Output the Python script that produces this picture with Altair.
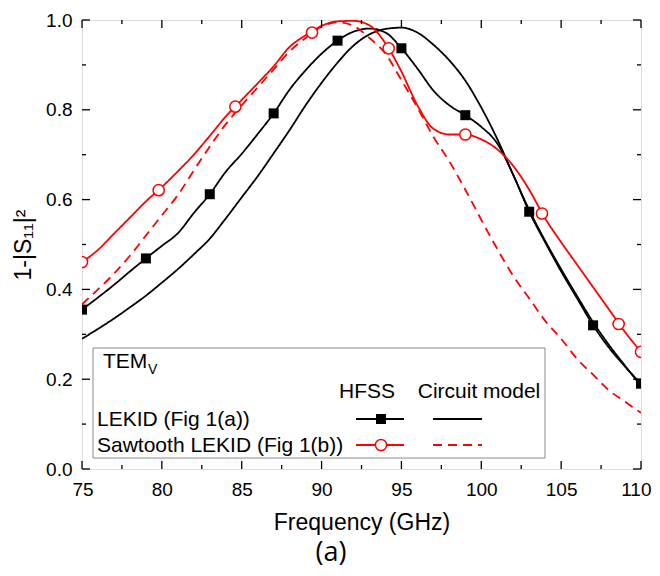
import altair as alt
import pandas as pd

# ---------------- data ----------------
freq = list(range(75, 111))

lekid_hfss = [0.355, 0.382, 0.41, 0.44, 0.469, 0.497, 0.525, 0.57, 0.612, 0.662,
              0.702, 0.746, 0.792, 0.845, 0.888, 0.925, 0.954, 0.974, 0.981, 0.972,
              0.937, 0.892, 0.843, 0.81, 0.788, 0.762, 0.725, 0.655, 0.573, 0.505,
              0.44, 0.38, 0.32, 0.27, 0.228, 0.19]

lekid_circuit = [0.29, 0.312, 0.335, 0.36, 0.386, 0.415, 0.445, 0.478, 0.513, 0.558,
                 0.605, 0.652, 0.703, 0.755, 0.81, 0.86, 0.905, 0.943, 0.968, 0.98,
                 0.983, 0.972, 0.945, 0.91, 0.865, 0.805, 0.735, 0.655, 0.577, 0.508,
                 0.445, 0.385, 0.327, 0.276, 0.23, 0.185]

saw_hfss = [0.461, 0.488, 0.524, 0.56, 0.596, 0.628, 0.663, 0.7, 0.742, 0.785,
            0.822, 0.859, 0.897, 0.94, 0.966, 0.987, 0.997, 0.998, 0.988, 0.948,
            0.885, 0.81, 0.758, 0.745, 0.745, 0.734, 0.712, 0.675, 0.622, 0.558,
            0.505, 0.455, 0.405, 0.355, 0.305, 0.261]

saw_circuit = [0.367, 0.40, 0.435, 0.475, 0.52, 0.565, 0.61, 0.665, 0.718, 0.768,
               0.81, 0.85, 0.89, 0.93, 0.96, 0.985, 0.995, 0.987, 0.96, 0.925,
               0.866, 0.805, 0.74, 0.685, 0.622, 0.555, 0.49, 0.43, 0.38, 0.33,
               0.29, 0.245, 0.21, 0.175, 0.15, 0.125]

lekid_marker_f = [75, 79, 83, 87, 91, 95, 99, 103, 107, 110]
lekid_marker_v = [0.355, 0.469, 0.612, 0.792, 0.954, 0.937, 0.788, 0.573, 0.32, 0.19]
saw_marker_f = [75, 79.8, 84.6, 89.4, 94.2, 99.0, 103.8, 108.6, 110]
saw_marker_v = [0.461, 0.621, 0.807, 0.972, 0.937, 0.745, 0.569, 0.323, 0.261]

x_major = [75, 80, 85, 90, 95, 100, 105, 110]
x_minor = [77.5, 82.5, 87.5, 92.5, 97.5, 102.5, 107.5]
y_major = [0.0, 0.2, 0.4, 0.6, 0.8, 1.0]
y_minor = [0.1, 0.3, 0.5, 0.7, 0.9]

series_names = ["LEKID HFSS", "LEKID circuit", "Sawtooth HFSS", "Sawtooth circuit"]
series_colors = ["black", "black", "red", "red"]
series_dash = [[1, 0], [1, 0], [1, 0], [9, 6]]

legend_title = "TEM"
legend_title_sub = "V"
legend_headers = ["HFSS", "Circuit model"]
legend_rows = ["LEKID (Fig 1(a))", "Sawtooth LEKID (Fig 1(b))"]

x_title = "Frequency (GHz)"
y_title = "1-|S\u2081\u2081|\u00b2"
panel_label = "(a)"

# ---------------- layout ----------------
W, H = 559, 449
FONT = "Arial, Liberation Sans, sans-serif"

rows = []
for name, vals in zip(series_names, [lekid_hfss, lekid_circuit, saw_hfss, saw_circuit]):
    for f, v in zip(freq, vals):
        rows.append({"f": f, "v": v, "series": name})
lines_df = pd.DataFrame(rows)

xs = alt.Scale(domain=[75, 110], nice=False, zero=False)
ys = alt.Scale(domain=[0, 1], nice=False)

x_axis = alt.Axis(values=x_major, title=x_title, ticks=False, tickSize=0, domain=False,
                  grid=False, labelFontSize=19, labelPadding=11, labelFlush=True,
                  labelFlushOffset=10, labelOverlap=False, titleFontSize=23,
                  titleFontWeight="normal", titlePadding=12, labelFont=FONT, titleFont=FONT,
                  labelColor="black", titleColor="black")
y_axis = alt.Axis(values=y_major, format=".1f", title=y_title, ticks=False, tickSize=0,
                  domain=False, grid=False, labelFontSize=19, labelPadding=10,
                  labelFlush=False, labelOverlap=False,
                  titleFontSize=23, titleFontWeight="normal", titlePadding=10,
                  labelFont=FONT, titleFont=FONT, labelColor="black", titleColor="black")

x_enc = alt.X("f:Q", scale=xs, axis=x_axis)
y_enc = alt.Y("v:Q", scale=ys, axis=y_axis)

lines = alt.Chart(lines_df).mark_line(interpolate="monotone", clip=True, strokeWidth=1.8).encode(
    x=x_enc,
    y=y_enc,
    color=alt.Color("series:N", scale=alt.Scale(domain=series_names, range=series_colors), legend=None),
    strokeDash=alt.StrokeDash("series:N", scale=alt.Scale(domain=series_names, range=series_dash), legend=None),
)

sq = alt.Chart(pd.DataFrame({"f": lekid_marker_f, "v": lekid_marker_v})).mark_point(
    shape="square", filled=True, color="black", size=100, opacity=1, clip=True
).encode(x=x_enc, y=y_enc)

circ = alt.Chart(pd.DataFrame({"f": saw_marker_f, "v": saw_marker_v})).mark_point(
    shape="circle", filled=True, fill="white", stroke="red", strokeWidth=1.5, size=125,
    opacity=1, clip=True
).encode(x=x_enc, y=y_enc)

# inward ticks on all four sides
xmaj_df = pd.DataFrame({"f": x_major})
xmin_df = pd.DataFrame({"f": x_minor})
ymaj_df = pd.DataFrame({"v": y_major})
ymin_df = pd.DataFrame({"v": y_minor})
tick_style = dict(color="black", strokeWidth=1.3)
ticks = [
    alt.Chart(xmaj_df).mark_rule(**tick_style).encode(x=x_enc, y=alt.value(H), y2=alt.value(H - 8)),
    alt.Chart(xmaj_df).mark_rule(**tick_style).encode(x=x_enc, y=alt.value(0), y2=alt.value(8)),
    alt.Chart(xmin_df).mark_rule(**tick_style).encode(x=x_enc, y=alt.value(H), y2=alt.value(H - 4)),
    alt.Chart(xmin_df).mark_rule(**tick_style).encode(x=x_enc, y=alt.value(0), y2=alt.value(4)),
    alt.Chart(ymaj_df).mark_rule(**tick_style).encode(y=y_enc, x=alt.value(0), x2=alt.value(8)),
    alt.Chart(ymaj_df).mark_rule(**tick_style).encode(y=y_enc, x=alt.value(W), x2=alt.value(W - 8)),
    alt.Chart(ymin_df).mark_rule(**tick_style).encode(y=y_enc, x=alt.value(0), x2=alt.value(4)),
    alt.Chart(ymin_df).mark_rule(**tick_style).encode(y=y_enc, x=alt.value(W), x2=alt.value(W - 4)),
]

# custom legend box
one = pd.DataFrame({"k": [0]})
box = alt.Chart(one).mark_rect(fill="white", stroke="#8a8a8a", strokeWidth=1).encode(
    x=alt.value(11), x2=alt.value(463), y=alt.value(328), y2=alt.value(438))

txt = dict(font=FONT, color="black", baseline="middle")
leg = [
    box,
    alt.Chart(one).mark_text(text=legend_title, fontSize=21, align="left", **txt).encode(
        x=alt.value(21), y=alt.value(342)),
    alt.Chart(one).mark_text(text=legend_title_sub, fontSize=14, align="left", **txt).encode(
        x=alt.value(66), y=alt.value(350)),
    alt.Chart(one).mark_text(text=legend_headers[0], fontSize=21, align="center", **txt).encode(
        x=alt.value(285), y=alt.value(372)),
    alt.Chart(one).mark_text(text=legend_headers[1], fontSize=21, align="center", **txt).encode(
        x=alt.value(397), y=alt.value(372)),
    alt.Chart(one).mark_text(text=legend_rows[0], fontSize=21, align="left", **txt).encode(
        x=alt.value(15), y=alt.value(400)),
    alt.Chart(one).mark_text(text=legend_rows[1], fontSize=21, align="left", **txt).encode(
        x=alt.value(15), y=alt.value(426)),
    alt.Chart(one).mark_rule(color="black", strokeWidth=1.8).encode(
        x=alt.value(274), x2=alt.value(322), y=alt.value(399)),
    alt.Chart(one).mark_rule(color="black", strokeWidth=1.8).encode(
        x=alt.value(351), x2=alt.value(400), y=alt.value(399)),
    alt.Chart(one).mark_rule(color="red", strokeWidth=1.8).encode(
        x=alt.value(274), x2=alt.value(322), y=alt.value(425)),
    alt.Chart(one).mark_rule(color="red", strokeWidth=1.8, strokeDash=[9, 6]).encode(
        x=alt.value(351), x2=alt.value(400), y=alt.value(425)),
    alt.Chart(one).mark_point(shape="square", filled=True, color="black", size=100, opacity=1).encode(
        x=alt.value(299), y=alt.value(399)),
    alt.Chart(one).mark_point(shape="circle", filled=True, fill="white", stroke="red",
                              strokeWidth=1.5, size=125, opacity=1).encode(
        x=alt.value(299), y=alt.value(425)),
]

label_a = alt.Chart(one).mark_text(text=panel_label, fontSize=27, font="Open Sans",
                                   color="black", baseline="middle", align="center").encode(
    x=alt.value(249), y=alt.value(533))

chart = alt.layer(lines, *ticks, sq, circ, *leg, label_a).properties(
    width=W, height=H,
    autosize=alt.AutoSizeParams(type="none"),
    padding={"left": 74, "top": 12, "right": 11, "bottom": 99},
).configure_view(stroke="black", strokeWidth=1.5).configure(background="white")

chart.save("out.html", embed_options={"renderer": "svg", "actions": False})
